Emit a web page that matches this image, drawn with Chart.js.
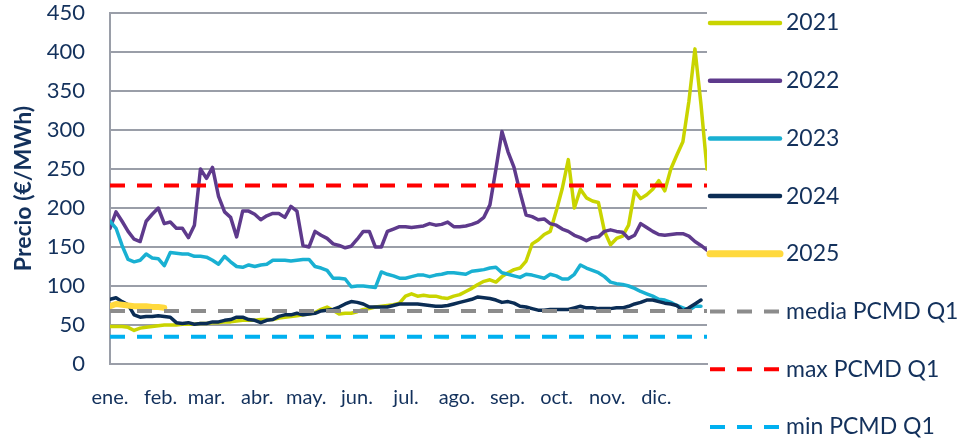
<!DOCTYPE html>
<html>
<head>
<meta charset="utf-8">
<script src="https://cdn.jsdelivr.net/npm/chart.js@4.4.1/dist/chart.umd.min.js"></script>
<style>
  body { margin: 0; background: #ffffff; }
  #wrap { width: 966px; height: 440px; }
</style>
</head>
<body>
<div id="wrap"><canvas id="priceChart" width="966" height="440"></canvas></div>
<script>
// Month labels sit on the first day of each month
const monthLabels = ['ene.', 'feb.', 'mar.', 'abr.', 'may.', 'jun.', 'jul.', 'ago.', 'sep.', 'oct.', 'nov.', 'dic.'];
const monthStartDay = [0, 31, 59, 90, 120, 151, 181, 212, 243, 273, 304, 334];

// Daily price (EUR/MWh), sampled every ~3.7 days
const prices2021 = [48, 48, 48, 47, 43, 46, 47, 48, 49, 50, 50, 50, 51, 51, 51, 52, 52, 53, 53, 54,
  54, 55, 56, 56, 56, 57, 57, 57, 59, 60, 61, 62, 63, 64, 66, 70, 73, 69, 64, 65,
  65, 67, 70, 71, 73, 74, 75, 76, 78, 87, 90, 87, 88, 87, 87, 85, 84, 87, 89, 93,
  97, 102, 106, 108, 105, 112, 117, 121, 123, 132, 154, 159, 166, 170, 196, 225, 262, 200, 224, 213,
  209, 207, 170, 153, 161, 164, 178, 222, 212, 217, 224, 235, 222, 250, 268, 285, 337, 404, 333, 250];
const prices2022 = [174, 195, 183, 170, 160, 157, 183, 192, 200, 180, 182, 174, 174, 162, 178, 250, 238, 252, 215, 195,
  188, 163, 196, 196, 192, 185, 190, 193, 193, 188, 202, 196, 152, 150, 170, 165, 161, 154, 152, 149,
  151, 160, 170, 170, 150, 150, 170, 173, 176, 176, 175, 176, 177, 180, 178, 179, 182, 176, 176, 177,
  179, 182, 188, 204, 250, 298, 272, 252, 220, 191, 189, 185, 186, 180, 178, 173, 170, 165, 162, 158,
  162, 163, 170, 172, 170, 169, 161, 165, 180, 175, 170, 166, 165, 166, 167, 167, 164, 157, 152, 146];
const prices2023 = [183, 174, 152, 134, 131, 133, 141, 136, 135, 126, 143, 142, 141, 141, 138, 138, 137, 133, 128, 138,
  131, 125, 124, 127, 125, 127, 128, 133, 133, 133, 132, 133, 134, 134, 125, 123, 120, 110, 110, 109,
  99, 100, 100, 99, 98, 118, 115, 113, 110, 110, 112, 114, 114, 112, 114, 115, 117, 117, 116, 115,
  119, 120, 121, 123, 124, 117, 115, 113, 111, 115, 114, 112, 110, 115, 113, 109, 109, 115, 127, 123,
  120, 117, 112, 105, 103, 102, 100, 97, 93, 90, 87, 83, 82, 79, 75, 72, 69, 74, 74, null];
const prices2024 = [83, 85, 80, 76, 63, 60, 61, 61, 62, 61, 60, 53, 52, 53, 51, 52, 52, 54, 54, 56,
  57, 60, 60, 57, 56, 53, 56, 57, 61, 63, 63, 65, 63, 64, 65, 68, 69, 70, 73, 77,
  80, 79, 77, 73, 73, 73, 73, 75, 77, 77, 77, 77, 76, 75, 74, 74, 75, 77, 79, 81,
  83, 86, 85, 84, 82, 79, 80, 78, 74, 73, 71, 69, 69, 70, 70, 70, 70, 72, 74, 72,
  72, 71, 71, 71, 72, 72, 74, 77, 79, 82, 82, 80, 78, 77, 75, 68, 72, 77, 82, null];
const prices2025 = [74, 77, 76, 75, 74, 74, 74, 73, 73, 72];

// Q1 reference levels of PCMD
const mediaQ1 = 68;
const maxQ1 = 229;
const minQ1 = 35;

const textColor = '#13315c';
const gridColor = '#9a9ea8';

const dayStep = 365 / (prices2021.length - 1);
const toPoints = arr => arr.map((v, i) => ({ x: i * dayStep, y: v }));
const flatLine = v => [{ x: 0, y: v }, { x: 365, y: v }];

function yearSet(label, arr, color, width) {
  return {
    label: label,
    data: toPoints(arr),
    borderColor: color,
    backgroundColor: color,
    borderWidth: width,
    legendWidth: width + 1,
    pointRadius: 0,
    tension: 0,
    borderJoinStyle: 'round',
    borderCapStyle: 'round'
  };
}

function refSet(label, value, color) {
  return {
    label: label,
    data: flatLine(value),
    borderColor: color,
    backgroundColor: color,
    borderWidth: 4,
    legendWidth: 4,
    borderDash: [15, 12],
    pointRadius: 0
  };
}

const datasets = [
  yearSet('2021', prices2021, '#c9d400', 3.5),
  yearSet('2022', prices2022, '#5e3a8c', 3.5),
  yearSet('2023', prices2023, '#19b0d2', 3.5),
  yearSet('2024', prices2024, '#0b2d55', 3.5),
  yearSet('2025', prices2025, '#ffd93d', 6),
  refSet('media PCMD Q1', mediaQ1, '#8c8c8c'),
  refSet('max PCMD Q1', maxQ1, '#ff0000'),
  refSet('min PCMD Q1', minQ1, '#00b0f0')
];
// later series are painted on top, reference lines last
datasets.forEach((ds, i) => { ds.order = datasets.length - i; });

// Legend on the right, one row per series
const sideLegend = {
  id: 'sideLegend',
  afterDraw(chart) {
    const ctx = chart.ctx;
    const right = chart.chartArea.right;
    ctx.save();
    ctx.font = '23px Lato';
    ctx.fillStyle = textColor;
    ctx.textBaseline = 'middle';
    ctx.textAlign = 'left';
    chart.data.datasets.forEach((ds, k) => {
      const y = 23 + k * 57.7;
      ctx.beginPath();
      ctx.strokeStyle = ds.borderColor;
      ctx.lineWidth = ds.legendWidth;
      ctx.lineCap = ds.borderDash ? 'butt' : 'round';
      ctx.setLineDash(ds.borderDash || []);
      ctx.moveTo(right + 3, y);
      ctx.lineTo(right + 73, y);
      ctx.stroke();
      ctx.setLineDash([]);
      ctx.fillText(ds.label, right + 79, y);
    });
    ctx.restore();
  }
};

Chart.defaults.font.family = 'Lato';
Chart.defaults.color = textColor;

new Chart(document.getElementById('priceChart'), {
  type: 'line',
  data: { datasets: datasets },
  options: {
    responsive: false,
    animation: false,
    layout: { padding: { left: 0, top: 4, right: 259, bottom: 0 } },
    plugins: {
      legend: { display: false },
      tooltip: { enabled: false }
    },
    scales: {
      x: {
        type: 'linear',
        min: 0,
        max: 365,
        afterBuildTicks: scale => {
          scale.ticks = monthStartDay.map(d => ({ value: d }));
        },
        afterFit: scale => { scale.height = 76; },
        ticks: {
          autoSkip: false,
          maxRotation: 0,
          padding: 22,
          color: textColor,
          font: { size: 20 },
          callback: (value, index) => monthLabels[index]
        },
        grid: { display: false, drawTicks: false },
        border: { display: true, color: gridColor, width: 2 }
      },
      y: {
        min: 0,
        max: 450,
        afterFit: scale => {
          scale.width = 110;
          // only half a label of room is needed above the top tick
          scale.paddingTop = 13;
          scale.paddingBottom = 13;
        },
        ticks: {
          stepSize: 50,
          padding: 25,
          color: textColor,
          font: { size: 22 }
        },
        grid: { color: gridColor, lineWidth: 2, drawTicks: false },
        border: { display: true, color: gridColor, width: 2 },
        title: {
          display: true,
          text: 'Precio (€/MWh)',
          color: textColor,
          font: { size: 23, weight: 'bold' },
          padding: { top: 10, bottom: 0 }
        }
      }
    }
  },
  plugins: [sideLegend]
});
</script>
</body>
</html>
